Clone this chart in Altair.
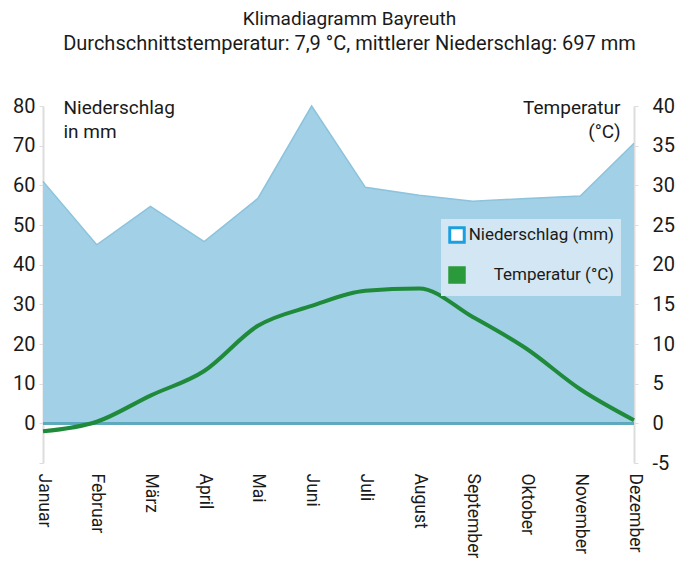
import altair as alt
import pandas as pd

monate = ["Januar", "Februar", "März", "April", "Mai", "Juni", "Juli",
          "August", "September", "Oktober", "November", "Dezember"]
niederschlag = [61, 45, 54.7, 45.8, 56.7, 80, 59.5, 57.5, 56, 56.7, 57.3, 70.6]
temperatur = [-1.0, 0.2, 3.5, 6.6, 12.3, 14.8, 16.7, 17.0, 13.4, 9.4, 4.3, 0.4]
serien = ["Niederschlag (mm)", "Temperatur (°C)"]
links_ticks = [-10, 0, 10, 20, 30, 40, 50, 60, 70, 80]
rechts_ticks = [-5, 0, 5, 10, 15, 20, 25, 30, 35, 40]

df = pd.DataFrame({"Monat": monate, "Niederschlag": niederschlag, "Temperatur": temperatur})

FONT = "Roboto"
TXT = "#1a1a1a"

xenc = alt.X("Monat:O", sort=monate, scale=alt.Scale(type="point", padding=0),
             axis=alt.Axis(title=None, labelAngle=90, labelFontSize=17.5, labelPadding=10,
                           domain=False, ticks=False, labelColor=TXT, labelFont=FONT,
                           labelOverlap=False))

base = alt.Chart(df)

area = base.mark_area(color="#a2d0e6", line={"color": "#8cc3dd", "strokeWidth": 1.5}, opacity=1).encode(
    x=xenc,
    y=alt.Y("Niederschlag:Q",
            scale=alt.Scale(domain=[-10, 80], nice=False, zero=False),
            axis=alt.Axis(title=["Niederschlag", "in mm"], values=links_ticks,
                          labelExpr="datum.value < 0 ? '' : '' + datum.value",
                          labelOverlap=False,
                          titleAngle=0, titleAlign="left", titleBaseline="top",
                          titleX=20, titleY=-8, titleFontSize=19, titleFontWeight="normal",
                          titleLineHeight=24, titleColor=TXT, titleFont=FONT,
                          labelFontSize=20, labelColor=TXT, labelFont=FONT, labelPadding=4,
                          tickSize=4, tickColor="#dddddd", domainColor="#dddddd",
                          domainWidth=2, grid=False)),
)

nulllinie = base.mark_rule(color="#5ea9bd", strokeWidth=2).encode(
    y=alt.YDatum(0, scale=alt.Scale(domain=[-10, 80], nice=False, zero=False), axis=None)
)

linie = base.mark_line(color="#1f8a3a", strokeWidth=4, interpolate="monotone").encode(
    x=xenc,
    y=alt.Y("Temperatur:Q",
            scale=alt.Scale(domain=[-5, 40], nice=False, zero=False),
            axis=alt.Axis(title=["Temperatur", "(°C)"], orient="right", values=rechts_ticks,
                          labelExpr="'' + datum.value", labelOverlap=False,
                          titleAngle=0, titleAlign="right", titleBaseline="top",
                          titleX=-14, titleY=-8, titleFontSize=19, titleFontWeight="normal",
                          titleLineHeight=24, titleColor=TXT, titleFont=FONT,
                          labelFontSize=20, labelColor=TXT, labelFont=FONT, labelPadding=14,
                          tickSize=4, tickColor="#dddddd", domainColor="#dddddd",
                          domainWidth=2, grid=False)),
)

legende = base.transform_filter("false").mark_point(shape="square", filled=True, opacity=1).encode(
    fill=alt.Fill("s:N", scale=alt.Scale(domain=serien, range=["#ffffff", "#2a9a3a"]),
                  legend=alt.Legend(title=None, orient="none", legendX=398, legendY=113,
                                    fillColor="#d2e7f3", padding=7, rowPadding=12,
                                    symbolSize=210, symbolStrokeWidth=3,
                                    labelFontSize=17, labelFont=FONT, labelColor=TXT,
                                    labelAlign="right", labelOffset=148, labelLimit=300)),
    stroke=alt.Stroke("s:N", scale=alt.Scale(domain=serien, range=["#1aa0e0", "#2a9a3a"]),
                      legend=None),
)

chart = alt.layer(area, nulllinie, linie, legende).resolve_scale(y="independent").properties(
    width=591, height=357,
    title=alt.TitleParams(
        text="Klimadiagramm Bayreuth",
        subtitle="Durchschnittstemperatur: 7,9 °C, mittlerer Niederschlag: 697 mm",
        fontSize=19, fontWeight="normal", font=FONT, color=TXT, anchor="middle",
        subtitleFontSize=20, subtitleFont=FONT, subtitleColor=TXT, subtitlePadding=5,
        offset=42, dx=11),
    autosize=alt.AutoSizeParams(type="none"),
    padding={"left": 35, "top": 98, "right": 46, "bottom": 95},
).configure_view(stroke=None).configure_axis(labelOverlap=False)

chart.save("out.html", embed_options={"renderer": "svg", "actions": False})
